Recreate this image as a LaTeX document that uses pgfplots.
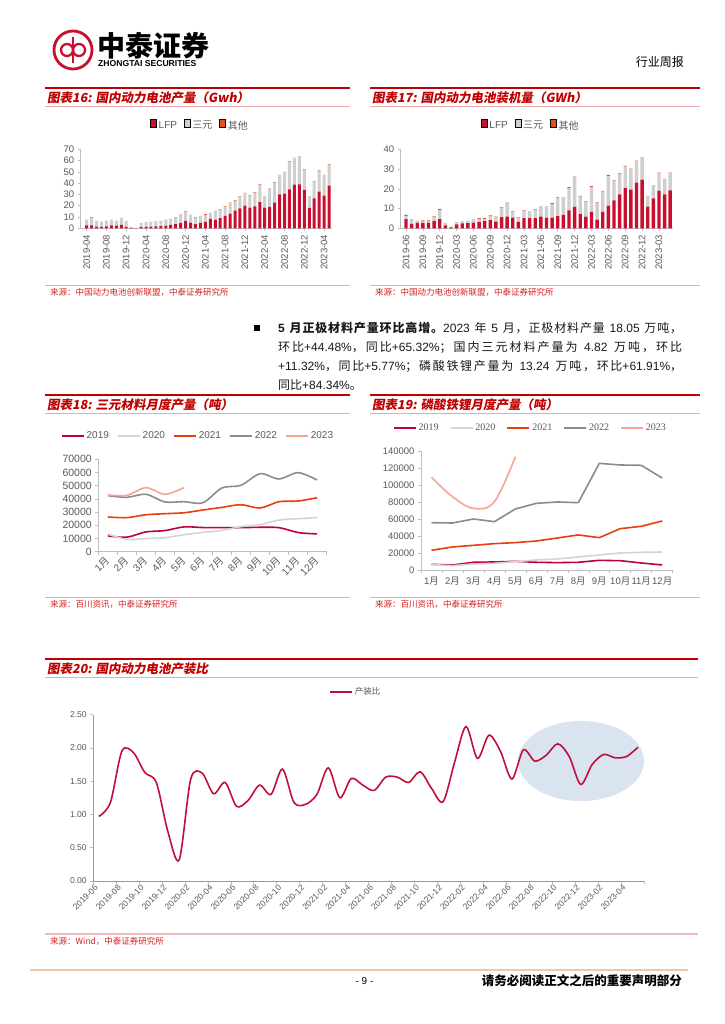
\documentclass[border=0pt]{standalone}
\usepackage{fontspec}
\setmainfont{Liberation Sans}
\newfontfamily\cjk{Noto Sans CJK SC}
\newfontfamily\cjkt{Noto Sans CJK SC}[FakeSlant=0.18]
\newfontfamily\tnr{Liberation Serif}
\usepackage{pgfplots}
\usepackage{pgfplotstable}
\pgfplotsset{compat=1.18}

\definecolor{lfp}{HTML}{C8102E}
\definecolor{ncm}{HTML}{CFCFCF}
\definecolor{oth}{HTML}{E8501A}
\definecolor{tred}{HTML}{C00000}
\definecolor{tpink}{HTML}{EDA8A8}
\definecolor{srcred}{HTML}{D42020}
\definecolor{axgray}{HTML}{BFBFBF}
\definecolor{txgray}{HTML}{595959}
\definecolor{c19}{HTML}{C0003A}
\definecolor{c20}{HTML}{D4D4D4}
\definecolor{c21}{HTML}{E8400C}
\definecolor{c22}{HTML}{8C8C8C}
\definecolor{c23}{HTML}{F7A48F}
\definecolor{ellip}{HTML}{DAE3F0}
\definecolor{ratio}{HTML}{C0103A}
\definecolor{foot}{HTML}{F2C6AE}

% inter-character glue for CJK runs (used only in the justified paragraph)
\newcount\cc
\newXeTeXintercharclass\cjkclass
\def\setcls#1#2{\cc=#1 \loop\XeTeXcharclass\cc=\cjkclass \advance\cc by 1 \ifnum\cc<#2 \repeat}
\setcls{"3000}{"3040}
\setcls{"4E00}{"9FA6}
\setcls{"FF00}{"FFF0}
\XeTeXinterchartoks\cjkclass\cjkclass={\hskip 0pt plus 1pt\relax}

\newcommand{\yue}[1]{#1{\cjk 月}}

% titles of the chart blocks
\newcommand{\blocktitle}[4]{%
  \draw[tred, line width=1.8pt] (#1pt,-#3pt) -- (#2pt,-#3pt);
  \node[anchor=west, inner sep=0pt, text=tred, font=\cjkt\bfseries\fontsize{12.5}{13}\selectfont]
    at (#1pt+2pt,-#3pt-10pt) {#4};
  \draw[tpink, line width=0.7pt] (#1pt,-#3pt-18pt) -- (#2pt,-#3pt-18pt);
}
\newcommand{\source}[4]{%
  \draw[tpink, line width=0.9pt] (#1pt,-#3pt) -- (#2pt,-#3pt);
  \node[anchor=west, inner sep=0pt, text=srcred, font=\cjk\fontsize{8.5}{9}\selectfont]
    at (#1pt+5pt,-#3pt-7pt) {#4};
}

\pgfplotsset{
  base/.style={scale only axis, axis x line*=bottom, axis y line*=left,
    axis line style={draw=axgray, line width=0.6pt},
    tick style={draw=axgray, line width=0.6pt},
    tick align=outside, major tick length=3pt,
    tick label style={text=txgray},
    /pgf/number format/assume math mode=true,
    scaled y ticks=false,
    yticklabel style={/pgf/number format/fixed, /pgf/number format/1000 sep={}},
    legend cell align=left},
  barleg/.style={legend image code/.code={\fill[##1, draw=none] (0pt,-3pt) rectangle (6pt,3pt);}},
  lineleg/.style={legend image code/.code={\draw[##1, line width=1.8pt] (0pt,0pt) -- (22pt,0pt);}},
}

% production, GWh: index from 2019-04
\pgfplotstableread{
i lfp ncm oth
0 2.5 4.5 0.4
1 2.6 6.2 0.8
2 1.5 4.7 0.3
3 1.2 4.1 0.3
4 1.8 4.4 0.3
5 2.7 4.3 0.4
6 2.3 4.0 0.3
7 3.0 5.7 0.5
8 1.2 4.7 0.3
9 0.3 0.4 0.1
10 0.1 0.1 0.0
11 1.0 3.3 0.3
12 1.3 3.4 0.3
13 1.5 3.8 0.3
14 1.6 4.0 0.3
15 2.0 4.2 0.3
16 2.4 4.6 0.4
17 3.0 4.9 0.4
18 3.6 5.8 0.4
19 4.6 7.0 0.6
20 6.5 8.1 0.4
21 5.0 6.7 0.3
22 3.8 5.5 0.3
23 4.9 5.7 0.4
24 5.6 6.4 0.5
25 8.3 5.1 0.3
26 7.4 7.6 0.4
27 9.1 7.5 0.5
28 10.9 8.1 0.5
29 13.0 9.9 0.4
30 15.7 8.6 0.5
31 17.7 10.3 0.4
32 20.1 10.8 0.4
33 18.3 10.6 0.4
34 19.5 12.0 0.4
35 23.3 14.9 0.8
36 18.3 10.0 0.3
37 18.9 16.5 0.3
38 22.7 17.6 0.4
39 30.1 16.9 0.3
40 30.7 18.9 0.3
41 34.5 24.3 0.4
42 38.7 23.5 0.3
43 39.0 24.0 0.5
44 34.0 17.9 0.5
45 18.0 10.3 0.3
46 26.6 14.8 0.5
47 32.5 18.7 0.3
48 28.9 18.0 0.4
49 37.8 18.3 0.6
}\prodtab

% installed, GWh: index from 2019-06
\pgfplotstableread{
i lfp ncm oth
0 4.6 1.6 0.6
1 2.2 2.3 0.2
2 2.7 0.8 0.2
3 2.7 1.1 0.2
4 2.9 0.9 0.2
5 3.7 2.1 0.3
6 4.7 4.5 0.6
7 1.5 0.9 0.1
8 0.5 0.1 0.1
9 2.0 0.9 0.1
10 2.5 0.9 0.1
11 2.6 0.9 0.1
12 2.9 1.3 0.2
13 3.2 1.6 0.3
14 3.6 1.2 0.3
15 4.2 2.1 0.3
16 3.4 2.2 0.3
17 5.7 4.6 0.3
18 5.9 6.7 0.4
19 5.4 2.9 0.3
20 3.2 2.2 0.2
21 5.1 3.7 0.3
22 5.1 3.1 0.2
23 5.1 4.2 0.3
24 5.9 4.8 0.3
25 5.4 5.3 0.3
26 5.4 7.0 0.3
27 6.2 9.2 0.3
28 6.8 8.4 0.3
29 9.1 11.3 0.4
30 10.8 15.0 0.4
31 7.3 8.8 0.3
32 5.9 7.6 0.3
33 8.3 12.6 0.4
34 4.4 8.6 0.2
35 8.3 10.3 0.3
36 11.5 15.1 0.4
37 14.2 9.8 0.3
38 17.2 10.2 0.4
39 20.4 10.8 0.4
40 19.6 10.6 0.2
41 23.1 10.8 0.4
42 24.6 11.3 0.2
43 11.0 5.2 0.2
44 15.2 6.5 0.2
45 19.1 8.7 0.4
46 17.2 7.6 0.2
47 19.2 8.8 0.2
}\insttab

\begin{document}
\begin{tikzpicture}[x=1pt,y=1pt]
\path[use as bounding box, fill=white] (0pt,0pt) rectangle (724pt,-1024pt);

% ---------- header
\draw[lfp, line width=2.8pt] (73pt,-50pt) circle (19pt);
\draw[lfp, line width=2.3pt] (67pt,-50pt) circle (6pt);
\draw[lfp, line width=2.3pt] (79pt,-50pt) circle (6pt);
\draw[lfp, line width=2.3pt] (73pt,-37pt) -- (73pt,-63pt);
\node[anchor=west, inner sep=0pt, font=\cjk\bfseries\fontsize{28}{28}\selectfont] at (97pt,-46pt) {中泰证券};
\node[anchor=west, inner sep=0pt, font=\bfseries\fontsize{8.6}{9}\selectfont] at (98pt,-63.5pt) {ZHONGTAI SECURITIES};
\node[anchor=east, inner sep=0pt, font=\cjk\fontsize{12}{12}\selectfont] at (684pt,-62pt) {行业周报};

% ---------- chart 16
\blocktitle{45}{350}{88}{图表16: 国内动力电池产量（Gwh）}
\begin{axis}[base, barleg, at={(80.7pt,-228.3pt)}, anchor=south west,
  width=251.3pt, height=79pt,
  xmin=-1.2, xmax=49.6, ymin=0, ymax=70, ytick={0,10,...,70},
  xtick={0,4,...,48},
  xticklabels={2019-04,2019-08,2019-12,2020-04,2020-08,2020-12,2021-04,2021-08,2021-12,2022-04,2022-08,2022-12,2023-04},
  x tick label style={rotate=90, anchor=east, font=\fontsize{9.5}{10}\selectfont},
  y tick label style={font=\fontsize{9.5}{10}\selectfont},
  ybar stacked, bar width=3pt,
  legend style={at={(0.475,1.30)}, anchor=center, draw=none, fill=none,
    legend columns=-1, font=\fontsize{10}{11}\selectfont, text=txgray,
    /tikz/every even column/.append style={column sep=5pt}},
]
\addplot[fill=lfp, draw=none] table[x=i, y=lfp] {\prodtab};
\addlegendentry{LFP}
\addplot[fill=ncm, draw=none] table[x=i, y=ncm] {\prodtab};
\addlegendentry{\cjk 三元}
\addplot[fill=oth, draw=none] table[x=i, y=oth] {\prodtab};
\addlegendentry{\cjk 其他}
\end{axis}
\source{45}{350}{285.7}{来源：中国动力电池创新联盟，中泰证券研究所}

% ---------- chart 17
\blocktitle{370}{700}{88}{图表17: 国内动力电池装机量（GWh）}
\begin{axis}[base, barleg, at={(400.7pt,-228.3pt)}, anchor=south west,
  width=272.3pt, height=79pt,
  xmin=-0.94, xmax=47.5, ymin=0, ymax=40, ytick={0,10,...,40},
  xtick={0,3,...,45},
  xticklabels={2019-06,2019-09,2019-12,2020-03,2020-06,2020-09,2020-12,2021-03,2021-06,2021-09,2021-12,2022-03,2022-06,2022-09,2022-12,2023-03},
  x tick label style={rotate=90, anchor=east, font=\fontsize{9.5}{10}\selectfont},
  y tick label style={font=\fontsize{9.5}{10}\selectfont},
  ybar stacked, bar width=3.4pt,
  legend style={at={(0.478,1.30)}, anchor=center, draw=none, fill=none,
    legend columns=-1, font=\fontsize{10}{11}\selectfont, text=txgray,
    /tikz/every even column/.append style={column sep=5pt}},
]
\addplot[fill=lfp, draw=none] table[x=i, y=lfp] {\insttab};
\addlegendentry{LFP}
\addplot[fill=ncm, draw=none] table[x=i, y=ncm] {\insttab};
\addlegendentry{\cjk 三元}
\addplot[fill=oth, draw=none] table[x=i, y=oth] {\insttab};
\addlegendentry{\cjk 其他}
\end{axis}
\source{370}{700}{285.7}{来源：中国动力电池创新联盟，中泰证券研究所}

% ---------- paragraph
\fill[black] (254pt,-324.5pt) rectangle (260pt,-330.5pt);
\begin{scope}[every node/.style={anchor=base west, inner sep=0pt, font=\fontsize{12}{14}\selectfont, text=black!90}]
\node at (278pt,-332.3pt) {\XeTeXinterchartokenstate=1 \makebox[404pt][s]{\textbf{5 }{\cjk\bfseries 月正极材料产量环比高增。}2023 {\cjk 年} 5 {\cjk 月，正极材料产量} 18.05 {\cjk 万吨，}}};
\node at (278pt,-351.3pt) {\XeTeXinterchartokenstate=1 \makebox[404pt][s]{{\cjk 环比}+44.48\%{\cjk ，同比}+65.32\%{\cjk ；国内三元材料产量为} 4.82 {\cjk 万吨，环比}}};
\node at (278pt,-370.3pt) {\XeTeXinterchartokenstate=1 \makebox[404pt][s]{+11.32\%{\cjk ，同比}+5.77\%{\cjk ；磷酸铁锂产量为} 13.24 {\cjk 万吨，环比}+61.91\%{\cjk ，}}};
\node at (278pt,-389.6pt) {{\cjk 同比}+84.34\%{\cjk 。}};
\end{scope}

% ---------- chart 18
\blocktitle{45}{350}{395}{图表18: 三元材料月度产量（吨）}
\begin{axis}[base, lineleg, at={(98.3pt,-551.7pt)}, anchor=south west,
  width=228.4pt, height=92.4pt,
  xmin=0.5, xmax=12.5, ymin=0, ymax=70000, ytick={0,10000,...,70000},
  xtick={1,...,12},
  xticklabels={\yue{1},\yue{2},\yue{3},\yue{4},\yue{5},\yue{6},\yue{7},\yue{8},\yue{9},\yue{10},\yue{11},\yue{12}},
  major x tick style={draw=none},
  minor xtick={0.5,1.5,...,12.5}, minor tick length=3pt,
  x tick label style={rotate=45, anchor=east, yshift=-3pt, font=\fontsize{10}{10}\selectfont},
  y tick label style={font=\fontsize{10.5}{11}\selectfont},
  legend style={at={(0.4365,1.252)}, anchor=center, draw=none, fill=none,
    legend columns=-1, font=\fontsize{10}{11}\selectfont, text=txgray,
    /tikz/every even column/.append style={column sep=6pt}},
  every axis plot/.append style={line width=1.6pt, smooth, tension=0.5},
]
\addplot[c19] coordinates {(1,12000) (2,11000) (3,15000) (4,16000) (5,18800) (6,18300) (7,18200) (8,18200) (9,18500) (10,18200) (11,14500) (12,13500)};
\addlegendentry{2019}
\addplot[c20] coordinates {(1,13400) (2,9300) (3,10000) (4,10600) (5,12900) (6,14600) (7,16200) (8,19000) (9,20500) (10,24000) (11,25000) (12,25800)};
\addlegendentry{2020}
\addplot[c21] coordinates {(1,26300) (2,25800) (3,28000) (4,28800) (5,29500) (6,31600) (7,33600) (8,35600) (9,33100) (10,37900) (11,38400) (12,40900)};
\addlegendentry{2021}
\addplot[c22] coordinates {(1,42500) (2,41200) (3,43500) (4,37700) (5,37900) (6,37100) (7,48300) (8,50300) (9,59100) (10,55100) (11,59900) (12,54300)};
\addlegendentry{2022}
\addplot[c23] coordinates {(1,43000) (2,42700) (3,48500) (4,43500) (5,48500)};
\addlegendentry{2023}
\end{axis}
\source{45}{350}{597}{来源：百川资讯，中泰证券研究所}

% ---------- chart 19
\blocktitle{370}{700}{395}{图表19: 磷酸铁锂月度产量（吨）}
\begin{axis}[base, lineleg, at={(421pt,-570.3pt)}, anchor=south west,
  width=251.7pt, height=119.3pt,
  xmin=0.5, xmax=12.5, ymin=0, ymax=140000, ytick={0,20000,...,140000},
  xtick={1,...,12},
  xticklabels={\yue{1},\yue{2},\yue{3},\yue{4},\yue{5},\yue{6},\yue{7},\yue{8},\yue{9},\yue{10},\yue{11},\yue{12}},
  major x tick style={draw=none},
  minor xtick={0.5,1.5,...,12.5}, minor tick length=3pt,
  x tick label style={anchor=north, font=\fontsize{9.5}{10}\selectfont},
  y tick label style={font=\fontsize{9.5}{10}\selectfont},
  legend style={at={(0.4346,1.19)}, anchor=center, draw=none, fill=none,
    legend columns=-1, font=\tnr\fontsize{10}{11}\selectfont, text=txgray,
    /tikz/every even column/.append style={column sep=9pt}},
  every axis plot/.append style={line width=1.6pt},
]
\addplot[c19] coordinates {(1,7000) (2,6200) (3,9400) (4,9800) (5,10500) (6,9400) (7,9000) (8,9400) (9,11700) (10,11300) (11,8600) (12,6300)};
\addlegendentry{2019}
\addplot[c20] coordinates {(1,6600) (2,5500) (3,7400) (4,8200) (5,10200) (6,12100) (7,13300) (8,15600) (9,18000) (10,20300) (11,21100) (12,21500)};
\addlegendentry{2020}
\addplot[c21] coordinates {(1,23500) (2,27400) (3,29300) (4,31300) (5,32500) (6,34400) (7,37900) (8,41500) (9,38300) (10,48900) (11,51600) (12,57900)};
\addlegendentry{2021}
\addplot[c22] coordinates {(1,55900) (2,55500) (3,60200) (4,57100) (5,72000) (6,78600) (7,80200) (8,79400) (9,125500) (10,123600) (11,123200) (12,108300)};
\addlegendentry{2022}
\addplot[c23, smooth, tension=0.6] coordinates {(1,109100) (2,86400) (3,72700) (4,80600) (5,133400)};
\addlegendentry{2023}
\end{axis}
\source{370}{700}{597}{来源：百川资讯，中泰证券研究所}

% ---------- chart 20
\blocktitle{45}{698}{659}{图表20: 国内动力电池产装比}
\fill[ellip] (581pt,-761pt) ellipse (63pt and 40pt);
\begin{axis}[base, lineleg, at={(93.2pt,-881pt)}, anchor=south west,
  width=550.6pt, height=166.5pt,
  xmin=-0.5, xmax=47.5, ymin=0, ymax=2.5, ytick={0,0.5,...,2.5},
  yticklabel style={/pgf/number format/fixed, /pgf/number format/fixed zerofill, /pgf/number format/precision=2},
  axis line style={draw=axgray!80!black},
  xtick={0,2,...,46},
  xticklabels={2019-06,2019-08,2019-10,2019-12,2020-02,2020-04,2020-06,2020-08,2020-10,2020-12,2021-02,2021-04,2021-06,2021-08,2021-10,2021-12,2022-02,2022-04,2022-06,2022-08,2022-10,2022-12,2023-02,2023-04},
  major x tick style={draw=none},
  minor xtick={-0.5,1.5,...,47.5}, minor tick length=3pt,
  x tick label style={rotate=45, anchor=east, font=\fontsize{8.5}{9}\selectfont},
  y tick label style={font=\fontsize{8.5}{9}\selectfont},
  legend style={at={(0.477,1.135)}, anchor=center, draw=none, fill=none,
    font=\cjk\fontsize{8.5}{9}\selectfont, text=txgray},
]
\addplot[ratio, line width=1.6pt, smooth, tension=0.5] coordinates {
 (0,0.97) (1,1.18) (2,1.95) (3,1.93) (4,1.63) (5,1.48) (6,0.75) (7,0.32)
 (8,1.53) (9,1.62) (10,1.31) (11,1.48) (12,1.12) (13,1.21) (14,1.44) (15,1.30)
 (16,1.68) (17,1.18) (18,1.15) (19,1.30) (20,1.70) (21,1.25) (22,1.54) (23,1.44)
 (24,1.36) (25,1.56) (26,1.56) (27,1.48) (28,1.64) (29,1.39) (30,1.19) (31,1.78)
 (32,2.32) (33,1.84) (34,2.19) (35,1.95) (36,1.53) (37,1.97) (38,1.80) (39,1.89)
 (40,2.06) (41,1.87) (42,1.45) (43,1.75) (44,1.90) (45,1.85) (46,1.87) (47,2.01)};
\addlegendentry{产装比}
\end{axis}
\draw[tpink!80, line width=1.8pt] (45pt,-934pt) -- (698pt,-934pt);
\node[anchor=west, inner sep=0pt, text=srcred, font=\cjk\fontsize{8.5}{9}\selectfont] at (50pt,-941pt) {来源：Wind，中泰证券研究所};

% ---------- footer
\draw[foot, line width=1.2pt] (30pt,-970pt) -- (688pt,-970pt);
\node[inner sep=0pt, font=\fontsize{10}{10}\selectfont] at (364.5pt,-981pt) {- 9 -};
\node[anchor=east, inner sep=0pt, font=\cjk\bfseries\fontsize{12.5}{13}\selectfont] at (682pt,-981pt) {请务必阅读正文之后的重要声明部分};
\end{tikzpicture}
\end{document}
